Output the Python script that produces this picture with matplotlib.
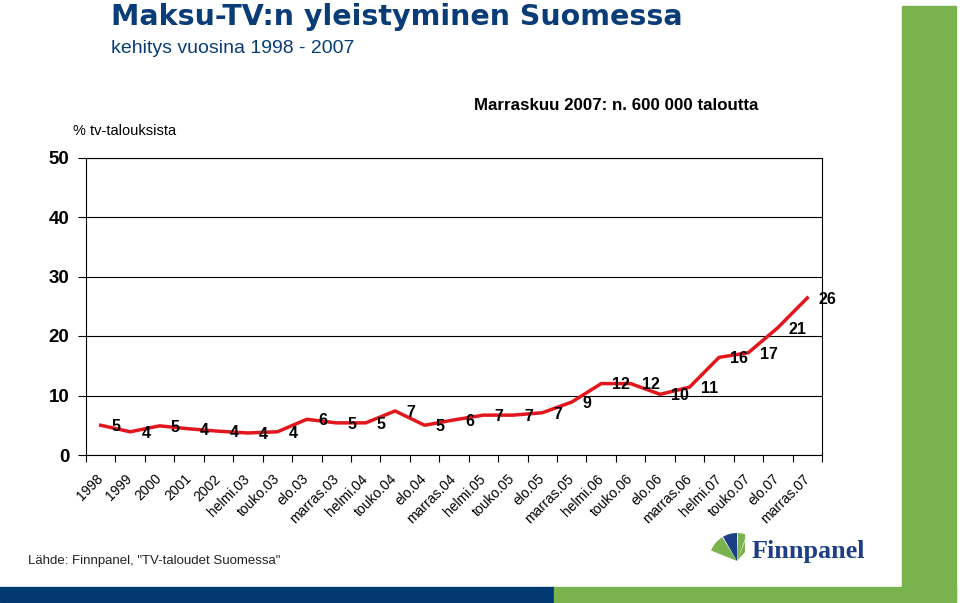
import numpy as np
import matplotlib.pyplot as plt
from matplotlib.patches import Rectangle, Wedge
from matplotlib.transforms import ScaledTranslation

plt.rcParams['font.family'] = ['Liberation Sans', 'DejaVu Sans']

# kuukaudet / vuodet
categories = ['1998', '1999', '2000', '2001', '2002',
              'helmi.03', 'touko.03', 'elo.03', 'marras.03',
              'helmi.04', 'touko.04', 'elo.04', 'marras.04',
              'helmi.05', 'touko.05', 'elo.05', 'marras.05',
              'helmi.06', 'touko.06', 'elo.06', 'marras.06',
              'helmi.07', 'touko.07', 'elo.07', 'marras.07']
# % tv-talouksista (luettu kuvasta)
values = [5.0, 3.9, 4.9, 4.4, 4.0, 3.7, 3.9, 6.0, 5.4, 5.4, 7.4, 5.0, 5.9,
          6.7, 6.7, 7.1, 8.9, 12.0, 12.0, 10.2, 11.4, 16.4, 17.2, 21.4, 26.4]
yticks = [0, 10, 20, 30, 40, 50]

W, H = 960, 603
BLUE = '#0a3d78'
GREEN = '#7ab24e'
RED = '#e3161d'


def fx(x):
    return x / W


def fy(y):
    return 1 - y / H


fig = plt.figure(figsize=(9.6, 6.03), dpi=100)

# koristepalkit
fig.patches.append(Rectangle((fx(902), fy(602)), fx(956) - fx(902), fy(6) - fy(602),
                             transform=fig.transFigure, color=GREEN, zorder=0))
fig.patches.append(Rectangle((0, fy(602)), fx(554), fy(587) - fy(602),
                             transform=fig.transFigure, color='#003a70', zorder=0))
fig.patches.append(Rectangle((fx(554), fy(602)), fx(956) - fx(554), fy(587) - fy(602),
                             transform=fig.transFigure, color=GREEN, zorder=0))

ax = fig.add_axes([fx(86), fy(455), fx(822) - fx(86), fy(157.5) - fy(455)])
x = np.arange(len(categories))
ax.plot(x, values, color=RED, lw=2.5, zorder=3)
for xi, v in zip(x, values):
    ax.annotate(f'{v:.0f}', (xi, v), xytext=(8, -1), textcoords='offset points',
                ha='left', va='center', fontsize=11.5, fontweight='bold', color='black', zorder=4)

ax.set_xlim(-0.5, len(categories) - 0.5)
ax.set_ylim(0, 50)
ax.set_yticks(yticks)
ax.grid(axis='y', color='black', lw=0.8)
ax.set_axisbelow(True)
for s in ax.spines.values():
    s.set_linewidth(0.8)

ax.set_xticks(x)
ax.set_xticklabels(categories, rotation=45, ha='right', va='top', rotation_mode='anchor')
ax.set_xticks(np.arange(-0.5, len(categories), 1), minor=True)
ax.tick_params(axis='x', which='major', length=0, pad=12, labelsize=10)
ax.tick_params(axis='x', which='minor', length=5, direction='out', width=0.8)
ax.tick_params(axis='y', length=6, direction='out', width=0.8, pad=6, labelsize=13.5)
shift = ScaledTranslation(-5 / 100, 0, fig.dpi_scale_trans)
for lab in ax.get_xticklabels():
    lab.set_transform(lab.get_transform() + shift)
for lab in ax.get_yticklabels():
    lab.set_fontweight('bold')

# tekstit
fig.text(fx(111), fy(25), 'Maksu-TV:n yleistyminen Suomessa', fontsize=20.5, fontweight='bold',
         family='DejaVu Sans', color=BLUE, ha='left', va='baseline')
fig.text(fx(111), fy(53), 'kehitys vuosina 1998 - 2007', fontsize=14, color=BLUE,
         ha='left', va='baseline')
fig.text(fx(73), fy(135), '% tv-talouksista', fontsize=10.5, ha='left', va='baseline')
fig.text(fx(474), fy(110), 'Marraskuu 2007: n. 600 000 taloutta', fontsize=12.2,
         fontweight='bold', ha='left', va='baseline')
fig.text(fx(28), fy(561), 'Lähde: Finnpanel, "TV-taloudet Suomessa"', fontsize=9.5,
         color='#222222', ha='left', va='center')

# Finnpanel-logo
fig.text(fx(752), fy(558), 'Finnpanel', fontsize=18.8, fontweight='bold', color='#1d3f86',
         family='Liberation Serif', ha='left', va='baseline')
lax = fig.add_axes([fx(711), fy(562), fx(745) - fx(711), fy(529) - fy(562)])
lax.set_xlim(-26, 8)
lax.set_ylim(0, 33)
lax.axis('off')
for a0, a1, c in [(122, 158, GREEN), (90, 120, '#1d3f86'), (70, 88, GREEN), (48, 68, GREEN)]:
    lax.add_patch(Wedge((0, 1), 28, a0, a1, color=c, lw=0))

fig.savefig('out.png', dpi=100)
